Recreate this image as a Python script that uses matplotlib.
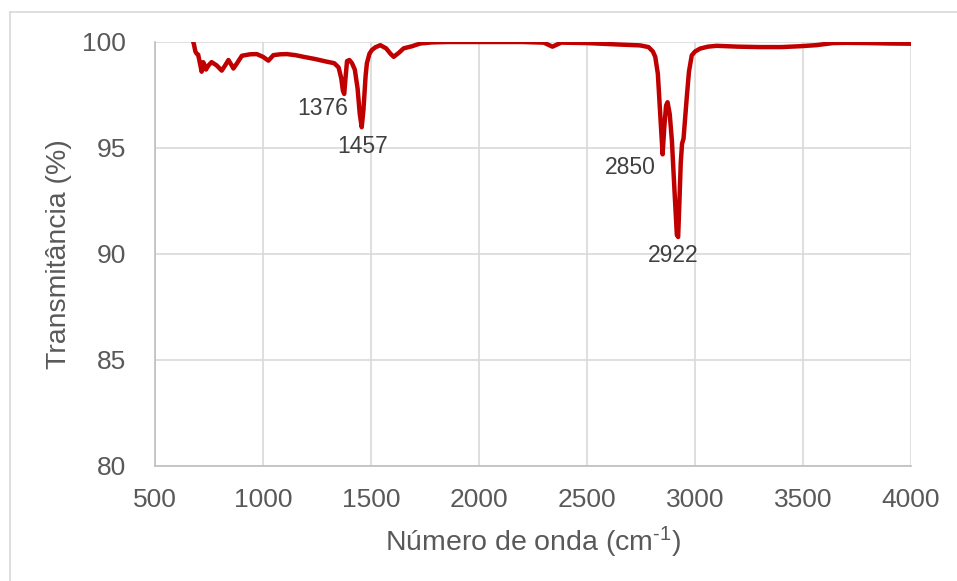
import matplotlib
matplotlib.use("Agg")
import matplotlib.pyplot as plt
from matplotlib.lines import Line2D

plt.rcParams['font.family'] = ['Liberation Sans', 'DejaVu Sans']
plt.rcParams['mathtext.fontset'] = 'custom'
plt.rcParams['mathtext.rm'] = 'Liberation Sans'
plt.rcParams['mathtext.default'] = 'regular'

# spectrum
wavenumber = [677, 680, 687, 693, 700, 708, 716, 723, 730, 736, 748, 762, 785, 809, 825,
              840, 852, 863, 880, 902, 940, 971, 1000, 1025, 1048, 1080, 1110, 1150, 1188,
              1240, 1296, 1330, 1350, 1362, 1370, 1376, 1382, 1389, 1400, 1412, 1425, 1438,
              1448, 1457, 1465, 1475, 1481, 1493, 1504, 1520, 1543, 1570, 1590, 1605, 1630,
              1651, 1690, 1728, 1780, 1850, 2000, 2200, 2300, 2325, 2340, 2355, 2380, 2500,
              2650, 2746, 2785, 2805, 2816, 2828, 2839, 2850, 2858, 2866, 2873, 2883, 2893,
              2905, 2916, 2922, 2928, 2934, 2940, 2947, 2955, 2962, 2972, 2985, 3000, 3024,
              3060, 3100, 3200, 3300, 3400, 3485, 3560, 3639, 3700, 3800, 3900, 4000]
transmit = [100.0, 99.9, 99.55, 99.45, 99.4, 99.0, 98.6, 99.05, 98.9, 98.7, 98.9, 99.05, 98.9,
            98.65, 98.9, 99.15, 98.95, 98.75, 99.0, 99.35, 99.42, 99.43, 99.3, 99.12, 99.38,
            99.42, 99.43, 99.38, 99.3, 99.2, 99.07, 99.0, 98.8, 98.3, 97.7, 97.55, 98.3, 99.1,
            99.15, 99.0, 98.7, 97.8, 96.6, 95.98, 96.8, 98.4, 99.0, 99.45, 99.62, 99.75, 99.85,
            99.7, 99.45, 99.3, 99.5, 99.7, 99.8, 99.93, 99.98, 100.0, 100.0, 100.0, 99.97,
            99.85, 99.78, 99.85, 99.97, 99.95, 99.88, 99.84, 99.76, 99.55, 99.3, 98.5, 96.6,
            94.7, 96.0, 97.0, 97.16, 96.6, 95.35, 93.0, 90.9, 90.8, 92.5, 94.3, 95.2, 95.45,
            96.5, 97.4, 98.6, 99.37, 99.55, 99.69, 99.78, 99.82, 99.78, 99.76, 99.76, 99.8,
            99.85, 99.95, 99.96, 99.95, 99.93, 99.92]

peak_labels = ['1376', '1457', '2850', '2922']
label_x = [1278, 1463, 2701, 2900]
label_y = [96.86, 95.06, 94.07, 89.95]

fig = plt.figure(figsize=(9.57, 5.81), dpi=100)
ax = fig.add_axes([155/957, 1 - 466/581, (911 - 155)/957, (466 - 42)/581])

ax.plot(wavenumber, transmit, color='#C00000', lw=3.2, solid_joinstyle='round',
        solid_capstyle='round', zorder=3)

for lab, lx, ly in zip(peak_labels, label_x, label_y):
    ax.text(lx, ly, lab, ha='center', va='center', fontsize=16.5, color='#404040')

ax.set_xlim(500, 4000)
ax.set_ylim(80, 100)
ax.set_xticks(range(500, 4001, 500))
ax.set_yticks(range(80, 101, 5))
ax.grid(True, color='#d9d9d9', lw=1.2)
ax.set_axisbelow(True)
for s in ['top', 'right']:
    ax.spines[s].set_visible(False)
for s in ['left', 'bottom']:
    ax.spines[s].set_color('#bfbfbf')
    ax.spines[s].set_linewidth(1.2)
ax.tick_params(axis='both', length=0, labelsize=19, labelcolor='#595959')
ax.tick_params(axis='y', pad=21)
ax.tick_params(axis='x', pad=16)

ax.set_xlabel(r'Número de onda (cm$^{\text{-}1}$)', fontsize=20.5, color='#595959', labelpad=9)
ax.set_ylabel('Transmitância (%)', fontsize=20.5, color='#595959', labelpad=7)

# chart frame (only left and top edges visible)
fig.add_artist(Line2D([10/957, 10/957], [0, 1 - 12/581], color='#d9d9d9', lw=1.2))
fig.add_artist(Line2D([10/957, 1], [1 - 12/581, 1 - 12/581], color='#d9d9d9', lw=1.2))

fig.savefig('out.png', dpi=100)
